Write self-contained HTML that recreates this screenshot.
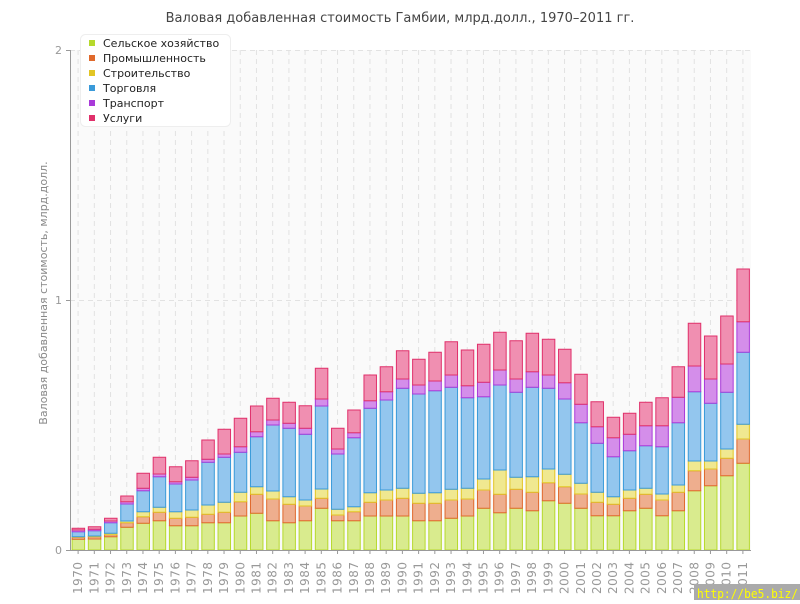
<!DOCTYPE html>
<html><head><meta charset="utf-8"><style>
body{margin:0;background:#fff;width:800px;height:600px;overflow:hidden;font-family:"DejaVu Sans","Liberation Sans",sans-serif}
</style></head><body>
<svg id="chart" width="800" height="600" xmlns="http://www.w3.org/2000/svg" font-family="DejaVu Sans, Liberation Sans, sans-serif">
<text x="400" y="22" text-anchor="middle" font-size="13" fill="#444">Валовая добавленная стоимость Гамбии, млрд.долл., 1970–2011 гг.</text>
<rect x="70" y="50" width="681" height="500" fill="#fafafa"/>
<g id="grid"></g>
<g id="bars"></g>
<line x1="70.5" y1="50" x2="70.5" y2="550" stroke="#999"/>
<line x1="70" y1="550.5" x2="751" y2="550.5" stroke="#999"/>
<g id="yticks"></g>
<g id="xticks"></g>
<text transform="translate(47,293) rotate(-90)" text-anchor="middle" font-size="11" fill="#888">Валовая добавленная стоимость, млрд.долл.</text>
<g>
<rect x="80.5" y="34.5" width="150" height="92" rx="5" fill="#fff" stroke="#eee"/>
<g id="legend-items"></g>
</g>
<rect x="694" y="584" width="106" height="16" fill="#aaa"/>
<text x="697" y="598" font-size="12" textLength="101" lengthAdjust="spacingAndGlyphs" fill="#ff0" font-family="DejaVu Sans Mono, Liberation Mono, monospace">http://be5.biz/</text>
</svg>
<script>
const years=[1970,1971,1972,1973,1974,1975,1976,1977,1978,1979,1980,1981,1982,1983,1984,1985,1986,1987,1988,1989,1990,1991,1992,1993,1994,1995,1996,1997,1998,1999,2000,2001,2002,2003,2004,2005,2006,2007,2008,2009,2010,2011];
const seriesNames=["Сельское хозяйство","Промышленность","Строительство","Торговля","Транспорт","Услуги"];
const agriculture=[.043,.044,.053,.091,.107,.117,.097,.097,.109,.109,.136,.147,.117,.109,.117,.167,.117,.117,.136,.136,.136,.117,.117,.127,.136,.167,.149,.167,.157,.197,.187,.167,.137,.137,.157,.167,.137,.157,.237,.257,.297,.347];
const industry=[.008,.009,.008,.018,.026,.034,.030,.034,.034,.042,.057,.076,.087,.074,.059,.040,.023,.036,.055,.064,.071,.070,.070,.073,.068,.073,.074,.076,.074,.072,.066,.057,.054,.046,.050,.056,.063,.074,.080,.067,.070,.097];
const construction=[.002,.003,.006,.007,.020,.020,.026,.029,.037,.040,.038,.030,.032,.030,.024,.037,.023,.020,.038,.040,.040,.040,.042,.043,.043,.044,.097,.048,.062,.055,.050,.043,.040,.030,.033,.024,.024,.029,.039,.032,.037,.059];
const trade=[.020,.021,.042,.068,.084,.122,.111,.120,.171,.180,.160,.200,.264,.274,.263,.332,.221,.276,.338,.360,.400,.397,.408,.408,.362,.329,.340,.340,.358,.323,.301,.242,.196,.160,.157,.170,.189,.249,.277,.231,.227,.288];
const transport=[.007,.006,.007,.009,.010,.011,.009,.011,.012,.013,.022,.020,.020,.020,.024,.028,.020,.020,.030,.033,.037,.036,.039,.049,.048,.058,.060,.053,.062,.053,.065,.074,.066,.076,.066,.080,.084,.102,.103,.097,.113,.122];
const services=[.007,.010,.011,.023,.060,.067,.060,.066,.077,.099,.114,.103,.087,.084,.090,.123,.083,.091,.103,.100,.113,.103,.115,.133,.143,.152,.151,.153,.154,.143,.134,.120,.100,.082,.084,.094,.112,.122,.171,.172,.192,.211];
const yTicks=[0,1,2];
const series=[agriculture,industry,construction,trade,transport,services];
const fills=["#d9eb8e","#eeae8e","#f0e890","#93c6ee","#d48eea","#f08fb1"];
const strokes=["#b6d92c","#e0692c","#e2c524","#3a9ad9","#a93ad9","#e0306b"];
const ns="http://www.w3.org/2000/svg";
const X0=70,W=681,Y0=550,H=500,yMax=2;
const band=W/years.length;
function xs(i){return X0+band*(i+0.5);}
function ys(v){return Y0-v/yMax*H;}
function mk(t,a,p){const e=document.createElementNS(ns,t);for(const k in a)e.setAttribute(k,a[k]);p.appendChild(e);return e;}
const grid=document.getElementById('grid'),bars=document.getElementById('bars'),yt=document.getElementById('yticks'),xt=document.getElementById('xticks'),lg=document.getElementById('legend-items');
years.forEach((y,i)=>{
  const l=mk('line',{x1:xs(i),x2:xs(i),y1:50,y2:550,stroke:'#e2e2e2','stroke-dasharray':'5,4'},grid);
  
  
});
yTicks.forEach(v=>{
  const g=mk('line',{x1:70,x2:751,y1:ys(v)+0.5,y2:ys(v)+0.5,stroke:'#e2e2e2','stroke-dasharray':'5,4'},grid);
  
  
  const t=mk('line',{x1:66,x2:70,y1:ys(v)+0.5,y2:ys(v)+0.5,stroke:'#999'},yt);
  
  
  const tx=mk('text',{x:62,y:ys(v)+4,'text-anchor':'end','font-size':11,fill:'#999'},yt);
  tx.textContent=v;
  
  
});
years.forEach((yr,i)=>{
  let cum=0;
  series.forEach((s,k)=>{
    const v=s[i],y1=ys(cum+v),y2=ys(cum);cum+=v;
    const r=mk('rect',{x:xs(i)-6,y:y1,width:12.5,height:Math.max(0,y2-y1),fill:fills[k],stroke:strokes[k],'stroke-width':1},bars);
    
    
  });
  const tk=mk('line',{x1:xs(i),x2:xs(i),y1:550,y2:554,stroke:'#999'},xt);
  
  
  const t=mk('text',{transform:`translate(${xs(i)+4},${594}) rotate(-90)`,'font-size':12,fill:'#999','letter-spacing':'0.5'},xt);
  t.textContent=yr;
  
  
});
seriesNames.forEach((n,k)=>{
  const y=43+k*15;
  const m=mk('rect',{x:89,y:y-3,width:6,height:6,fill:strokes[k]},lg);
  
  
  const t=mk('text',{x:103,y:y+4,'font-size':11,fill:'#222'},lg);
  t.textContent=n;
  
  
});
</script>
</body></html>
